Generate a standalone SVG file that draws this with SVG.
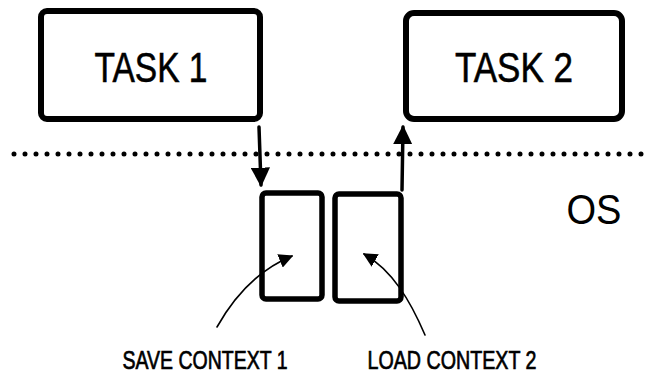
<svg xmlns="http://www.w3.org/2000/svg" width="653" height="375" viewBox="0 0 653 375">
<style>
.box{fill:none;stroke:#000;stroke-width:6;stroke-linejoin:round}
.sbox{fill:none;stroke:#000;stroke-width:5.5;stroke-linejoin:round}
.big{font-family:"Liberation Sans",Arial,sans-serif;font-size:43px;fill:#000;stroke:#000;stroke-width:0.6}
.lbl{font-family:"Liberation Sans",Arial,sans-serif;font-size:25px;fill:#000;stroke:#000;stroke-width:0.7}
.arr{fill:none;stroke:#000;stroke-width:3.5;stroke-linecap:round}
.thin{fill:none;stroke:#000;stroke-width:1.6;stroke-linecap:round}
</style>
<defs>
<marker id="head" viewBox="0 0 10 10" refX="9" refY="5" markerWidth="5.5" markerHeight="5.5" orient="auto" markerUnits="strokeWidth">
<path d="M0,0 L10,5 L0,10 z" fill="#000"/>
</marker>
<marker id="headS" viewBox="0 0 10 10" refX="9" refY="5" markerWidth="9" markerHeight="9" orient="auto" markerUnits="strokeWidth">
<path d="M0,0 L10,5 L0,10 z" fill="#000"/>
</marker>
</defs>
<rect width="653" height="375" fill="#fff"/>
<g id="divider">
<line x1="14" y1="154" x2="652" y2="154" stroke="#000" stroke-width="5" stroke-linecap="round" stroke-dasharray="0 11"/>
</g>
<g id="task1">
<rect class="box" x="41" y="11" width="219" height="108" rx="6"/>
<text class="big" x="151" y="82" text-anchor="middle" textLength="113" lengthAdjust="spacingAndGlyphs">TASK 1</text>
</g>
<g id="task2">
<rect class="box" x="406" y="13" width="216" height="106" rx="8"/>
<text class="big" x="514" y="82" text-anchor="middle" textLength="118" lengthAdjust="spacingAndGlyphs">TASK 2</text>
</g>
<g id="os">
<text class="big" x="594" y="224" text-anchor="middle" textLength="55" lengthAdjust="spacingAndGlyphs" style="stroke-width:0" font-size="44">OS</text>
</g>
<g id="ctx1">
<rect class="sbox" x="262" y="193" width="60" height="106" rx="4"/>
</g>
<g id="ctx2">
<rect class="sbox" x="335" y="194" width="66" height="107" rx="4"/>
</g>
<g id="label1">
<text class="lbl" x="205" y="369" text-anchor="middle" textLength="165" lengthAdjust="spacingAndGlyphs">SAVE CONTEXT 1</text>
</g>
<g id="label2">
<text class="lbl" x="452" y="369" text-anchor="middle" textLength="169" lengthAdjust="spacingAndGlyphs">LOAD CONTEXT 2</text>
</g>
<g id="connectors">
<line x1="259" y1="127" x2="261" y2="185" class="arr" marker-end="url(#head)"/>
<line x1="402" y1="190" x2="403" y2="127" class="arr" marker-end="url(#head)"/>
<path d="M217,327 C235,295 258,270 292,256" class="thin" marker-end="url(#headS)"/>
<path d="M425,335 C410,300 392,270 364,254" class="thin" marker-end="url(#headS)"/>
</g>
</svg>
